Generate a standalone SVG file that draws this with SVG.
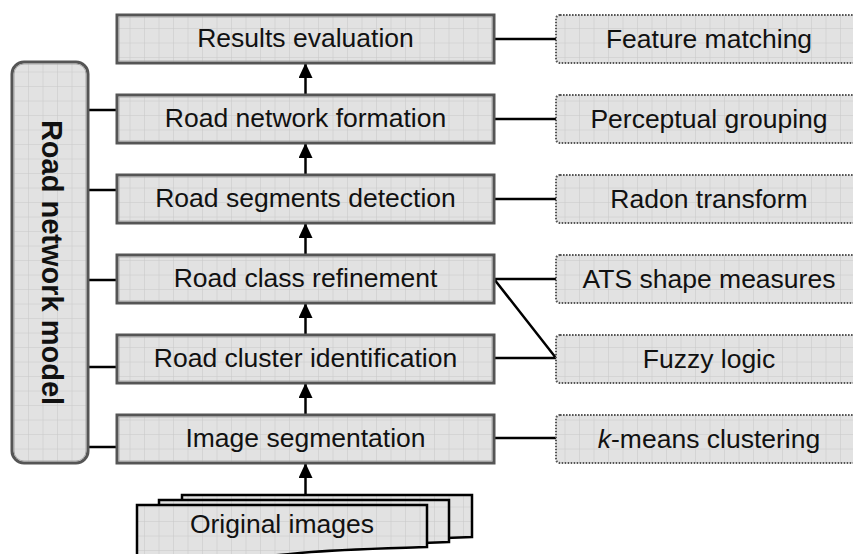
<svg xmlns="http://www.w3.org/2000/svg" width="853" height="554" viewBox="0 0 853 554">
<defs>
<pattern id="grid" width="14.5" height="14.5" patternUnits="userSpaceOnUse">
<rect width="14.5" height="14.5" fill="#e2e2e2"/>
<path d="M14.5 0 V14.5 M0 14.5 H14.5" stroke="#c8c8c8" stroke-width="1" fill="none"/>
</pattern>
<marker id="arr" viewBox="0 0 15 14" refX="15" refY="7" markerWidth="15" markerHeight="14" markerUnits="userSpaceOnUse" orient="auto">
<path d="M0,0 L15,7 L0,14 Z" fill="#000"/>
</marker>
</defs>
<style>
.main{fill:url(#grid);stroke:#555;stroke-width:3}
.inner{fill:none;stroke:#a8a8a8;stroke-width:1}
.side{fill:url(#grid);stroke:#555;stroke-width:2;stroke-dasharray:1.6 1.4}
.t{font-family:"Liberation Sans",Arial,sans-serif;font-size:26.5px;fill:#111;text-anchor:middle}
.c{stroke:#000;stroke-width:2.5;fill:none}
.doc{fill:url(#grid);stroke:#000;stroke-width:2.5}
</style>

<g id="connectors">
<path class="c" d="M88,110 H117 M88,190 H117 M88,280 H117 M88,367 H117 M88,447 H117"/>
<path class="c" d="M494,39 H556 M494,119 H556 M494,199 H556 M494,279 H556 M494,358 H556 M494,438 H556 M494,279 L556,358"/>
<line class="c" x1="305.5" y1="95" x2="305.5" y2="63" marker-end="url(#arr)"/>
<line class="c" x1="305.5" y1="175" x2="305.5" y2="143" marker-end="url(#arr)"/>
<line class="c" x1="305.5" y1="255" x2="305.5" y2="223" marker-end="url(#arr)"/>
<line class="c" x1="305.5" y1="335" x2="305.5" y2="303" marker-end="url(#arr)"/>
<line class="c" x1="305.5" y1="415" x2="305.5" y2="383" marker-end="url(#arr)"/>
<line class="c" x1="305.5" y1="494" x2="305.5" y2="463" marker-end="url(#arr)"/>
</g>

<g id="model">
<rect x="12" y="62" width="76" height="401" rx="12" class="main"/>
<rect x="14" y="64" width="72" height="397" rx="10" class="inner"/>
<text class="t" style="font-weight:bold;font-size:29px" transform="translate(42,262.5) rotate(90)" x="0" y="0">Road network model</text>
</g>

<g id="results">
<rect x="117" y="15" width="377" height="48" class="main"/>
<rect x="119" y="17" width="373" height="44" class="inner"/>
<text class="t" x="305.5" y="47">Results evaluation</text>
</g>
<g id="formation">
<rect x="117" y="95" width="377" height="48" class="main"/>
<rect x="119" y="97" width="373" height="44" class="inner"/>
<text class="t" x="305.5" y="127">Road network formation</text>
</g>
<g id="segments">
<rect x="117" y="175" width="377" height="48" class="main"/>
<rect x="119" y="177" width="373" height="44" class="inner"/>
<text class="t" x="305.5" y="207">Road segments detection</text>
</g>
<g id="refinement">
<rect x="117" y="255" width="377" height="48" class="main"/>
<rect x="119" y="257" width="373" height="44" class="inner"/>
<text class="t" x="305.5" y="287">Road class refinement</text>
</g>
<g id="cluster">
<rect x="117" y="335" width="377" height="48" class="main"/>
<rect x="119" y="337" width="373" height="44" class="inner"/>
<text class="t" x="305.5" y="367">Road cluster identification</text>
</g>
<g id="segmentation">
<rect x="117" y="415" width="377" height="48" class="main"/>
<rect x="119" y="417" width="373" height="44" class="inner"/>
<text class="t" x="305.5" y="447">Image segmentation</text>
</g>

<g id="feature">
<rect x="556" y="15" width="306" height="48" rx="4" class="side"/>
<text class="t" x="709" y="47.5">Feature matching</text>
</g>
<g id="perceptual">
<rect x="556" y="95" width="306" height="48" rx="4" class="side"/>
<text class="t" x="709" y="127.5">Perceptual grouping</text>
</g>
<g id="radon">
<rect x="556" y="175" width="306" height="48" rx="4" class="side"/>
<text class="t" x="709" y="207.5">Radon transform</text>
</g>
<g id="ats">
<rect x="556" y="255" width="306" height="48" rx="4" class="side"/>
<text class="t" x="709" y="287.5">ATS shape measures</text>
</g>
<g id="fuzzy">
<rect x="556" y="335" width="306" height="48" rx="4" class="side"/>
<text class="t" x="709" y="367.5">Fuzzy logic</text>
</g>
<g id="kmeans">
<rect x="556" y="415" width="306" height="48" rx="4" class="side"/>
<text class="t" x="709" y="447.5"><tspan font-style="italic">k</tspan>-means clustering</text>
</g>

<g id="original">
<path class="doc" d="M182,495 H472 V537 C445,538 385,540 345,544 C295,549 235,553 182,551 Z"/>
<path class="doc" d="M159,500 H449 V542 C422,543 362,545 322,549 C272,554 212,558 159,556 Z"/>
<path class="doc" d="M137,505 H427 V547 C400,548 340,549 300,553 C250,558 190,562 137,560 Z"/>
<text class="t" x="282" y="533">Original images</text>
</g>
</svg>
